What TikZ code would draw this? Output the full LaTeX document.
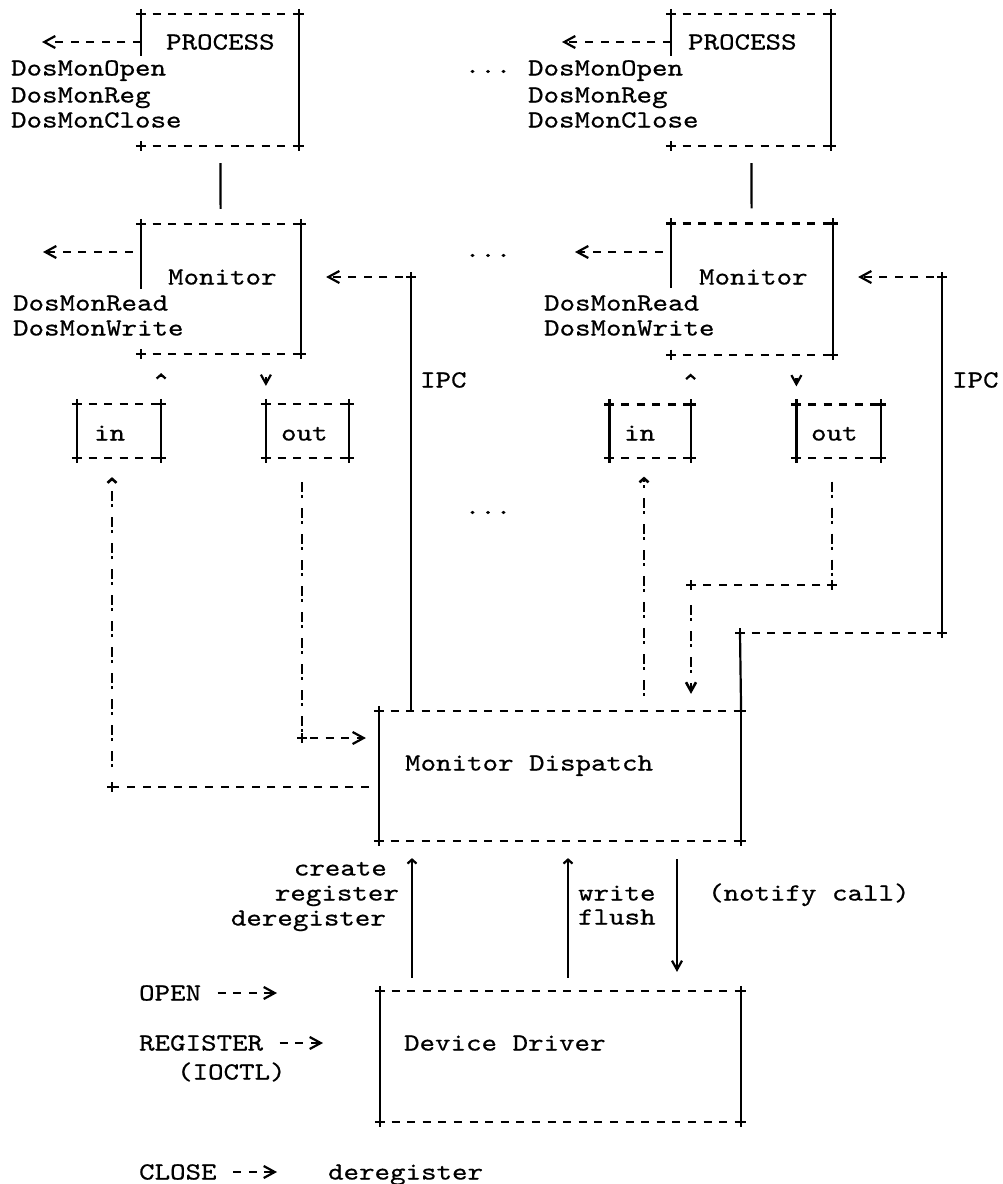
\documentclass[tikz,border=0pt]{standalone}
\usepackage{fontspec}
\usetikzlibrary{arrows.meta,positioning}
\newfontfamily\asciifont{lmmono10-regular.otf}[FakeStretch=1.2,FakeBold=0.6]
\tikzstyle{every node}=[inner sep=0pt,font=\fontsize{12.3pt}{14pt}\asciifont]
\tikzstyle{asciibox}=[rectangle,draw=none]
\tikzstyle{txt}=[anchor=west,text height=7.5pt,text depth=0pt]
\tikzstyle{dashrule}=[dash pattern=on 4pt off 3.8pt,dash phase=2pt]
\tikzstyle{dasharrow}=[dash pattern=on 4pt off 3.8pt]
\tikzstyle{bangup}=[line width=1.3pt,dash pattern=on 1.5pt off 1.5pt on 5pt off 5pt]
\tikzstyle{bangdown}=[line width=1.3pt,dash pattern=on 5pt off 1.5pt on 1.5pt off 5pt]
\tikzstyle{toarrow}=[-{Straight Barb[length=5.5pt,width=6pt]}]
\tikzstyle{hatarrow}=[-{Straight Barb[length=2pt,width=4.5pt]}]
\tikzstyle{veearrow}=[-{Straight Barb[length=4.5pt,width=5pt]}]
\tikzset{crossmark/.pic={\draw[solid] (-5,0) -- (5,0) (0,-5) -- (0,5);}}
\newcommand{\boxedges}[2]{%
  \draw[dashrule] (#1.north west) -- (#1.north east);
  \draw[dashrule] (#1.south west) -- (#1.south east);
  \draw (#1.north east) -- (#1.south east);
  \draw (#1.north west) -- #2;
  \foreach \c in {north west,north east,south west,south east}
    {\pic at (#1.\c) {crossmark};}}

\begin{document}
\begin{tikzpicture}[x=0.5pt,y=-0.5pt,line width=1.1pt,node distance=265.5pt]
  \useasboundingbox (0,0) rectangle (1002,1184);

  \node[asciibox,minimum width=78pt,minimum height=65pt]	(proc1) at (220,80) {};
  \node[asciibox,minimum width=79pt,minimum height=65pt]	(proc2) [right of=proc1] {};
  \node[asciibox,minimum width=79pt,minimum height=64pt]	(mon1) at (221,289) {};
  \node[asciibox,minimum width=80pt,minimum height=64.5pt]	(mon2) [right of=mon1] {};
  \node[asciibox,minimum width=41pt,minimum height=26pt]	(in1) at (119,431) {};
  \node[asciibox,minimum width=40.5pt,minimum height=26pt]	(out1) at (307.5,431) {};
  \node[asciibox,minimum width=39.5pt,minimum height=25.5pt]	(in2) [right of=in1] {};
  \node[asciibox,minimum width=41pt,minimum height=25.5pt]	(out2) [right of=out1] {};
  \node[asciibox,minimum width=180pt,minimum height=64pt]	(md) at (560,776) {};
  \node[asciibox,minimum width=179.5pt,minimum height=64.5pt]	(dd) at (560.5,1056.5) {};

  \boxedges{proc1}{([yshift=-21pt]proc1.north west)}
  \boxedges{proc2}{([yshift=-21pt]proc2.north west)}
  \boxedges{mon1}{([yshift=-32.5pt]mon1.north west)}
  \boxedges{mon2}{([yshift=-32.5pt]mon2.north west)}
  \boxedges{in1}{(in1.south west)}
  \boxedges{out1}{(out1.south west)}
  \boxedges{in2}{(in2.south west)}
  \boxedges{out2}{(out2.south west)}
  \boxedges{md}{(md.south west)}
  \boxedges{dd}{(dd.south west)}

  \node[txt] (pn1) at (165,42) {PROCESS};
  \node[txt] (pn2) at (687,42) {PROCESS};
  \node[txt] (op1) at (10,68) {DosMonOpen};
  \node[txt] (rg1) at (10,95) {DosMonReg};
  \node[txt] (cl1) at (10,120) {DosMonClose};
  \node[txt] (op2) at (527,68) {DosMonOpen};
  \node[txt] (rg2) at (527,95) {DosMonReg};
  \node[txt] (cl2) at (527,120) {DosMonClose};
  \node[txt] (mn1) at (167,277) {Monitor};
  \node[txt] (mn2) at (698,277) {Monitor};
  \node[txt] (rd1) at (12,303) {DosMonRead};
  \node[txt] (wr1) at (12,328) {DosMonWrite};
  \node[txt] (rd2) at (543,303) {DosMonRead};
  \node[txt] (wr2) at (543,328) {DosMonWrite};
  \node[txt] (inl1) at (93,433) {in};
  \node[txt] (outl1) at (280,433) {out};
  \node[txt] (inl2) at (623,433) {in};
  \node[txt] (outl2) at (810,433) {out};
  \node[txt] (ipcl1) at (419,380) {IPC};
  \node[txt] (ipcl2) at (951,380) {IPC};
  \node[anchor=base] (dots1) at (488,73) {...};
  \node[anchor=base] (dots2) at (488,257) {...};
  \node[anchor=base] (dots3) at (488,514) {...};
  \node[txt] (mdl) at (404,763) {Monitor Dispatch};
  \node[txt] (ddl) at (403,1043) {Device Driver};
  \node[txt,anchor=east] (create) at (388,868) {create};
  \node[txt,anchor=east] (reg) at (400,893) {register};
  \node[txt,anchor=east] (dereg) at (387,918) {deregister};
  \node[txt] (write) at (577,893) {write};
  \node[txt] (flush) at (577,917) {flush};
  \node[txt] (notify) at (707,893) {(notify call)};
  \node[txt] (open) at (138,993) {OPEN};
  \node[txt] (register) at (138,1043) {REGISTER};
  \node[txt] (ioctl) at (176,1072) {(IOCTL)};
  \node[txt] (close) at (138,1172) {CLOSE};
  \node[txt] (closedereg) at (327,1172) {deregister};

  \coordinate (pa1) at (42,42);
  \coordinate (pa2) at (562,42);
  \coordinate (ma1) at (43,252);
  \coordinate (ma2) at (575,252);
  \coordinate (ipc1) at (411,277);
  \coordinate (ipc2) at (942,277);
  \coordinate (ipc2b) at (942,633);
  \coordinate (ipc2c) at (740,633);
  \coordinate (inc1) at (112,787);
  \coordinate (inc2) at (644,700);
  \coordinate (outc1) at (302,738);
  \coordinate (outc2) at (832,585);
  \coordinate (outc2b) at (691,585);
  \coordinate (crl) at (412,900);
  \coordinate (wrl) at (568,900);
  \coordinate (ntl) at (677,900);
  \coordinate (openend) at (277,993);
  \coordinate (regend) at (323,1043);

  \draw[dasharrow,toarrow] (proc1.west |- pa1) -- (pa1);
  \draw[dasharrow,toarrow] (proc2.west |- pa2) -- (pa2);
  \draw[dasharrow,toarrow,shorten <=4pt] (mon1.west |- ma1) -- (ma1);
  \draw[dasharrow,toarrow,shorten <=4pt] (mon2.west |- ma2) -- (ma2);
  \path (proc1) edge[shorten <=8.5pt,shorten >=7.5pt] (mon1)
        (proc2) edge[shorten <=8.5pt,shorten >=7.5pt] (mon2);

  \draw[hatarrow,shorten <=14pt,shorten >=9.5pt] (in1.north east) -- (in1.north east |- mon1.south);
  \draw[veearrow,shorten <=11.5pt,shorten >=9pt] (out1.north west |- mon1.south) -- (out1.north west);
  \draw[hatarrow,shorten <=14pt,shorten >=9.5pt] (in2.north east) -- (in2.north east |- mon2.south);
  \draw[veearrow,shorten <=11.5pt,shorten >=9pt] (out2.north west |- mon2.south) -- (out2.north west);

  \draw (ipc1) -- (ipc1 |- md.north);
  \draw[dasharrow,toarrow,shorten <=4pt,shorten >=12.5pt] (ipc1) -- (mon1.east |- ipc1);
  \draw (md.north east) -- (ipc2c);
  \draw[dashrule] (ipc2c) -- (ipc2b);
  \draw (ipc2b) -- (ipc2);
  \draw[dasharrow,toarrow,shorten <=4pt,shorten >=12.5pt] (ipc2) -- (mon2.east |- ipc2);

  \draw[dasharrow,shorten <=5pt] (md.west |- inc1) -- (inc1);
  \draw[bangup,hatarrow,shorten <=10pt,shorten >=9.5pt] (inc1) -- (in1.south -| inc1);
  \draw[bangdown,shorten <=12pt] (out1.south -| outc1) -- (outc1);
  \draw[dasharrow,toarrow,shorten <=4pt,shorten >=6.5pt] (outc1) -- (md.west |- outc1);

  \draw[bangup,hatarrow,shorten <=7.5pt,shorten >=9.5pt] (md.north -| inc2) -- (in2.south -| inc2);
  \draw[bangdown,shorten <=12pt] (out2.south -| outc2) -- (outc2);
  \draw[dashrule] (outc2) -- (outc2b);
  \draw[bangdown,veearrow,shorten <=10pt,shorten >=8.5pt] (outc2b) -- (md.north -| outc2b);

  \foreach \p in {ipc1,ipc2,ipc2b,ipc2c,inc1,outc1,outc2,outc2b}
    {\pic at (\p) {crossmark};}

  \draw[hatarrow,shorten <=6.5pt,shorten >=8.5pt] (dd.north -| crl) -- (md.south -| crl);
  \draw[hatarrow,shorten <=6.5pt,shorten >=8.5pt] (dd.north -| wrl) -- (md.south -| wrl);
  \draw[veearrow,shorten <=9pt,shorten >=9.5pt] (md.south -| ntl) -- (dd.north -| ntl);

  \draw[dasharrow,toarrow,shorten <=7.75pt] (open) -- (openend);
  \draw[dasharrow,toarrow,shorten <=7.75pt] (register) -- (regend);
  \draw[dasharrow,toarrow,shorten <=7.75pt,shorten >=25pt] (close) -- (closedereg);
\end{tikzpicture}
\end{document}
